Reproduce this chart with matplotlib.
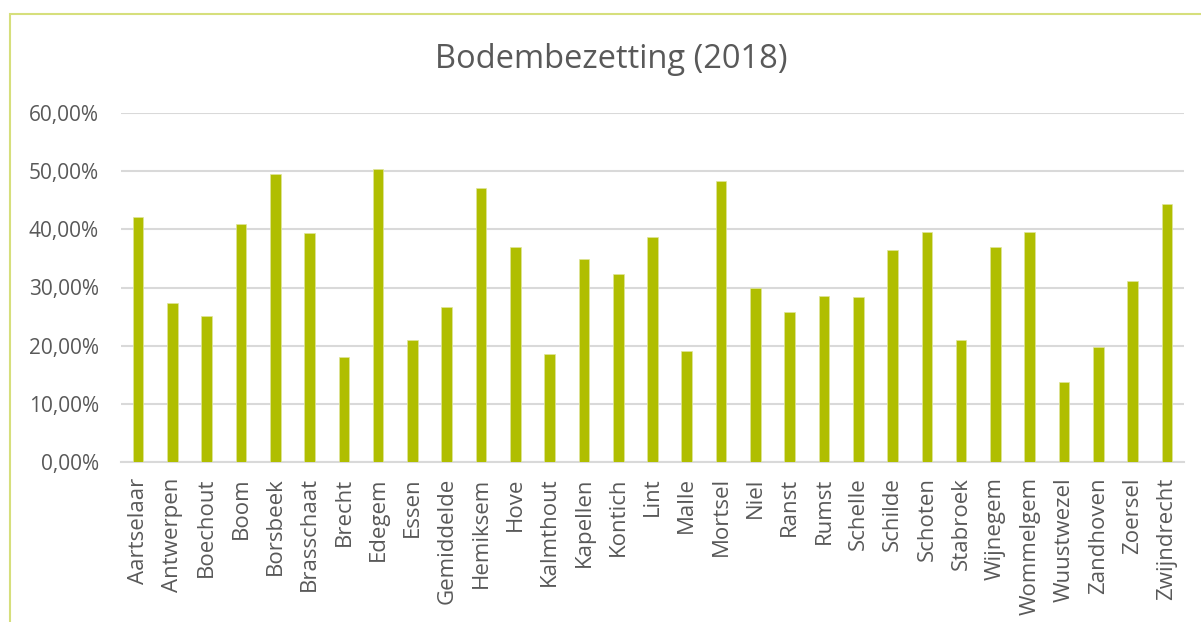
import matplotlib
matplotlib.use("Agg")
import matplotlib.pyplot as plt
from matplotlib.patches import Rectangle
from matplotlib.ticker import FuncFormatter, MultipleLocator

plt.rcParams['font.family'] = ['Open Sans', 'DejaVu Sans']

gemeenten = ["Aartselaar", "Antwerpen", "Boechout", "Boom", "Borsbeek", "Brasschaat",
             "Brecht", "Edegem", "Essen", "Gemiddelde", "Hemiksem", "Hove", "Kalmthout",
             "Kapellen", "Kontich", "Lint", "Malle", "Mortsel", "Niel", "Ranst", "Rumst",
             "Schelle", "Schilde", "Schoten", "Stabroek", "Wijnegem", "Wommelgem",
             "Wuustwezel", "Zandhoven", "Zoersel", "Zwijndrecht"]
bezetting = [0.4207, 0.2740, 0.2505, 0.4098, 0.4946, 0.3930, 0.1805, 0.5037, 0.2104,
             0.2665, 0.4705, 0.3703, 0.1857, 0.3497, 0.3239, 0.3875, 0.1903, 0.4831,
             0.2991, 0.2579, 0.2849, 0.2837, 0.3651, 0.3949, 0.2092, 0.3691, 0.3960,
             0.1375, 0.1984, 0.3106, 0.4435]

W, H = 1201, 622
fig = plt.figure(figsize=(W / 100, H / 100), dpi=100)

# chart frame
fig.patches.append(Rectangle((10 / W, -0.1), 1.2, (H - 14) / H + 0.1,
                             transform=fig.transFigure, fill=False,
                             edgecolor='#d6df7c', linewidth=1.5))

ax = fig.add_axes([121 / W, 1 - 462 / H, (1184 - 121) / W, (462 - 113) / H])
x = range(len(gemeenten))
ax.bar(x, bezetting, width=0.31, color='#b0be00', edgecolor='#dfe59a', linewidth=0.5, zorder=3)

ax.set_xlim(-0.5, len(gemeenten) - 0.5)
ax.set_ylim(0, 0.6)
ax.yaxis.set_major_locator(MultipleLocator(0.1))
ax.yaxis.set_major_formatter(FuncFormatter(lambda v, p: f"{v*100:.2f}%".replace('.', ',')))
ax.grid(axis='y', color='#d9d9d9', linewidth=1.5, zorder=0)
ax.set_xticks(list(x))
ax.set_xticklabels(gemeenten, rotation=90, va='top', ha='center')
ax.tick_params(axis='both', length=0, colors='#595959')
ax.tick_params(axis='x', pad=11, labelsize=16)
ax.tick_params(axis='y', pad=16, labelsize=15)
for s in ['top', 'right', 'left']:
    ax.spines[s].set_visible(False)
ax.spines['bottom'].set_color('#d9d9d9')
ax.spines['bottom'].set_linewidth(1.5)

fig.text(611 / W, 1 - 60 / H, "Bodembezetting (2018)", ha='center', va='center',
         fontsize=23.5, color='#595959')

fig.savefig("out.png", dpi=100)
